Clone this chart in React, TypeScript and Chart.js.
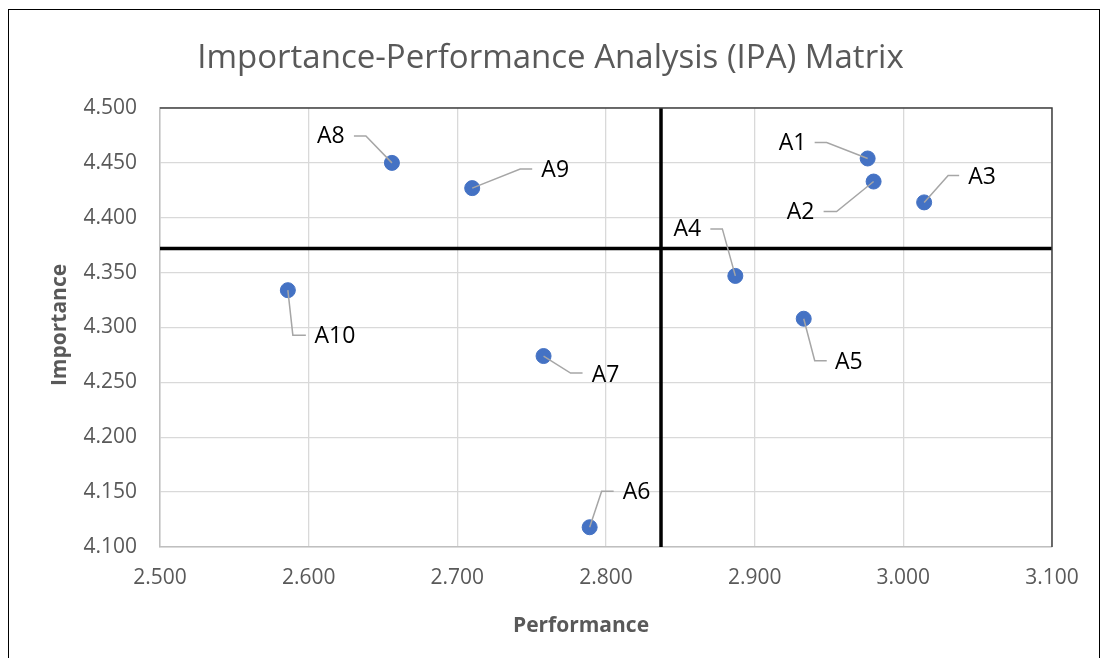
import React, { useEffect, useRef } from 'react';
import { Chart, registerables } from 'chart.js';

Chart.register(...registerables);

// ---- Data ----
const itemLabels = ['A1', 'A2', 'A3', 'A4', 'A5', 'A6', 'A7', 'A8', 'A9', 'A10'];
const performance = [2.976, 2.980, 3.014, 2.887, 2.933, 2.789, 2.758, 2.656, 2.710, 2.586];
const importance = [4.454, 4.433, 4.414, 4.347, 4.308, 4.118, 4.274, 4.450, 4.427, 4.334];
const performanceCut = 2.837;
const importanceCut = 4.372;

const xRange = [2.5, 3.1];
const xStep = 0.1;
const yRange = [4.1, 4.5];
const yStep = 0.05;

const chartTitle = 'Importance-Performance Analysis (IPA) Matrix';
const xTitle = 'Performance';
const yTitle = 'Importance';

// ---- Label placement (pixel offsets from each point; styling only) ----
// lx,ly: label centre; ex,ey: leader elbow; hx: end of horizontal leader piece
const labelLayout = [
  { lx: -75, ly: -15, ex: -41, ey: -16, hx: -53 },
  { lx: -73, ly: 31, ex: -37, ey: 30, hx: -50 },
  { lx: 58, ly: -25, ex: 24, ey: -27, hx: 35 },
  { lx: -48, ly: -46, ex: -13, ey: -47, hx: -25 },
  { lx: 45, ly: 44, ex: 11, ey: 42, hx: 23 },
  { lx: 47, ly: -35, ex: 12, ey: -36, hx: 24 },
  { lx: 62, ly: 19, ex: 27, ey: 17, hx: 39 },
  { lx: -61, ly: -26, ex: -26, ey: -27, hx: -38 },
  { lx: 83, ly: -18, ex: 48, ey: -19, hx: 60 },
  { lx: 47, ly: 46, ex: 5, ey: 45, hx: 18 },
];

const FONT = '"Open Sans", "Liberation Sans", sans-serif';

const decorPlugin = {
  id: 'decor',
  beforeDraw(chart: any) {
    const { ctx } = chart;
    ctx.save();
    ctx.fillStyle = '#ffffff';
    ctx.fillRect(0, 0, chart.width, chart.height);
    ctx.strokeStyle = '#000000';
    ctx.lineWidth = 1;
    ctx.strokeRect(8.5, 9.5, 1091, 700);
    ctx.restore();
  },
  afterDatasetsDraw(chart: any) {
    const { ctx, chartArea } = chart;
    const meta = chart.getDatasetMeta(2);
    ctx.save();
    // dark top & right plot border
    ctx.strokeStyle = '#404040';
    ctx.lineWidth = 1.5;
    ctx.beginPath();
    ctx.moveTo(chartArea.left, chartArea.top);
    ctx.lineTo(chartArea.right, chartArea.top);
    ctx.lineTo(chartArea.right, chartArea.bottom);
    ctx.stroke();

    // leader lines + labels
    meta.data.forEach((pt: any, i: number) => {
      const L = labelLayout[i];
      const x = pt.x;
      const y = pt.y;
      ctx.strokeStyle = '#a6a6a6';
      ctx.lineWidth = 1.5;
      ctx.beginPath();
      ctx.moveTo(x, y);
      ctx.lineTo(x + L.ex, y + L.ey);
      ctx.lineTo(x + L.hx, y + L.ey);
      ctx.stroke();
      ctx.fillStyle = '#000000';
      ctx.font = `23px ${FONT}`;
      ctx.textAlign = 'center';
      ctx.textBaseline = 'middle';
      ctx.fillText(itemLabels[i], x + L.lx, y + L.ly);
    });

    // axis titles
    ctx.fillStyle = '#595959';
    ctx.font = `bold 21px ${FONT}`;
    ctx.textAlign = 'center';
    ctx.textBaseline = 'alphabetic';
    ctx.fillText(xTitle, 581, 632);
    ctx.save();
    ctx.translate(66, 325);
    ctx.rotate(-Math.PI / 2);
    ctx.fillText(yTitle, 0, 0);
    ctx.restore();
    ctx.restore();
  },
};

export default function App() {
  const ref = useRef<HTMLCanvasElement | null>(null);

  useEffect(() => {
    if (!ref.current) return;
    const points = performance.map((p, i) => ({ x: p, y: importance[i] }));
    const chart = new Chart(ref.current, {
      type: 'scatter',
      data: {
        datasets: [
          {
            label: 'vertical',
            data: [
              { x: performanceCut, y: yRange[0] },
              { x: performanceCut, y: yRange[1] },
            ],
            showLine: true,
            borderColor: '#000000',
            borderWidth: 3.5,
            pointRadius: 0,
            order: 3,
          } as any,
          {
            label: 'horizontal',
            data: [
              { x: xRange[0], y: importanceCut },
              { x: xRange[1], y: importanceCut },
            ],
            showLine: true,
            borderColor: '#000000',
            borderWidth: 3.5,
            pointRadius: 0,
            order: 2,
          } as any,
          {
            label: 'Items',
            data: points,
            backgroundColor: '#4472C4',
            borderColor: '#4472C4',
            borderWidth: 1,
            pointRadius: 7.5,
            order: 1,
          } as any,
        ],
      },
      options: {
        animation: false,
        responsive: false,
        maintainAspectRatio: false,
        layout: { padding: 0 },
        plugins: {
          legend: { display: false },
          tooltip: { enabled: false },
          title: {
            display: true,
            text: chartTitle,
            color: '#595959',
            font: { family: FONT, size: 33, weight: 'normal' as any, lineHeight: 1.2 },
            padding: { top: 39, bottom: 29.4 },
          },
        },
        scales: {
          x: {
            type: 'linear',
            position: 'bottom',
            min: xRange[0],
            max: xRange[1],
            afterFit: (s: any) => { s.height = 111; },
            ticks: {
              stepSize: xStep,
              padding: 18,
              color: '#595959',
              font: { family: FONT, size: 21 },
              callback: (v: any) => Number(v).toFixed(3),
            },
            grid: { color: '#d9d9d9', lineWidth: 1.3, drawTicks: false },
            border: { color: '#bfbfbf', width: 1.5 },
          },
          y: {
            type: 'linear',
            position: 'left',
            min: yRange[0],
            max: yRange[1],
            afterFit: (s: any) => { s.width = 160; },
            ticks: {
              stepSize: yStep,
              padding: 23,
              color: '#595959',
              font: { family: FONT, size: 21 },
              callback: (v: any) => Number(v).toFixed(3),
            },
            grid: { color: '#d9d9d9', lineWidth: 1.3, drawTicks: false },
            border: { color: '#bfbfbf', width: 1.5 },
          },
          yR: {
            type: 'linear',
            position: 'right',
            display: true,
            afterFit: (s: any) => { s.width = 49; },
            ticks: { display: false },
            grid: { display: false, drawTicks: false },
            border: { display: false },
          },
        },
      },
      plugins: [decorPlugin],
    } as any);
    return () => chart.destroy();
  }, []);

  return (
    <div style={{ position: 'absolute', left: 0, top: 0, width: 1101, height: 658 }}>
      <canvas ref={ref} width={1101} height={658} />
    </div>
  );
}
